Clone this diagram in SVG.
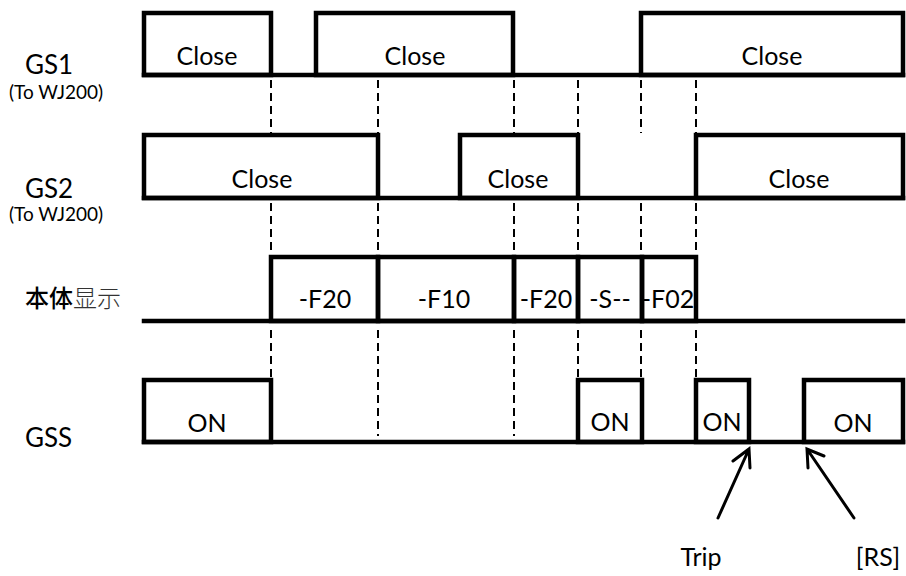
<svg xmlns="http://www.w3.org/2000/svg" width="906" height="576" viewBox="0 0 906 576">
<style>
.sig{fill:none;stroke:#000;stroke-width:4.5;stroke-linejoin:miter;stroke-linecap:square}
.dash{fill:none;stroke:#000;stroke-width:2;stroke-dasharray:8 5}
.arr{fill:none;stroke:#000;stroke-width:3;stroke-linecap:round;stroke-linejoin:miter}
text{font-family:Lato,"Noto Sans",sans-serif;fill:#000}
.t{font-size:25px;text-anchor:middle}
.lab{font-size:26px}
.sub{font-size:19px}
.cjk{font-family:"Noto Sans CJK SC",sans-serif;font-size:24px}
</style>
<rect width="906" height="576" fill="#fff"/>
<g id="labels">
<text class="lab" x="25" y="74">GS1</text>
<text class="sub" x="9" y="99">(To WJ200)</text>
<text class="lab" x="25" y="198">GS2</text>
<text class="sub" x="9" y="221">(To WJ200)</text>
<text class="cjk" x="25" y="307"><tspan font-weight="500">本体</tspan><tspan font-weight="300" fill="#333">显示</tspan></text>
<text class="lab" x="25" y="447">GSS</text>
</g>
<g id="connectors">
<path class="dash" d="M271,80V133M378,80V133M514,80V133M578,80V133M641,80V133M696,80V133"/>
<path class="dash" d="M271,203V255M378,203V255M514,203V255M578,203V255M641,203V255M696,203V255"/>
<path class="dash" d="M271,330V377M378,330V436M514,330V436M578,330V377M641,330V377M696,330V377"/>
<path class="arr" d="M718,518L749,449M733,461L749,449L750,468"/>
<path class="arr" d="M854,518L807,449M808,468L807,449L824,456"/>
</g>
<g id="GS1">
<path class="sig" d="M144,75H903"/>
<rect class="sig" x="144" y="13" width="127" height="62"/>
<rect class="sig" x="316" y="13" width="197" height="62"/>
<rect class="sig" x="641" y="13" width="262" height="62"/>
<text class="t" x="207" y="65">Close</text>
<text class="t" x="415" y="65">Close</text>
<text class="t" x="772" y="65">Close</text>
</g>
<g id="GS2">
<path class="sig" d="M144,198H903"/>
<rect class="sig" x="144" y="135" width="234" height="63"/>
<rect class="sig" x="460" y="135" width="118" height="63"/>
<rect class="sig" x="696" y="135" width="207" height="63"/>
<text class="t" x="262" y="188">Close</text>
<text class="t" x="518" y="188">Close</text>
<text class="t" x="799" y="188">Close</text>
</g>
<g id="display">
<path class="sig" d="M144,321H903"/>
<rect class="sig" x="271" y="257" width="107" height="64"/>
<rect class="sig" x="378" y="257" width="136" height="64"/>
<rect class="sig" x="514" y="257" width="64" height="64"/>
<rect class="sig" x="578" y="257" width="64" height="64"/>
<rect class="sig" x="642" y="257" width="54" height="64"/>
<text class="t" x="325" y="308">-F20</text>
<text class="t" x="444" y="308">-F10</text>
<text class="t" x="546" y="308">-F20</text>
<text class="t" x="610" y="308">-S--</text>
<text class="t" x="668" y="308">-F02</text>
</g>
<g id="GSS">
<path class="sig" d="M144,442H903"/>
<rect class="sig" x="144" y="380" width="127" height="62"/>
<rect class="sig" x="578" y="380" width="64" height="62"/>
<rect class="sig" x="696" y="380" width="53" height="62"/>
<rect class="sig" x="804" y="380" width="99" height="62"/>
<text class="t" x="207" y="432">ON</text>
<text class="t" x="610" y="431">ON</text>
<text class="t" x="722" y="431">ON</text>
<text class="t" x="853" y="432">ON</text>
</g>
<g id="notes">
<text class="t" x="701" y="566">Trip</text>
<text class="t" x="878" y="566">[RS]</text>
</g>
</svg>
